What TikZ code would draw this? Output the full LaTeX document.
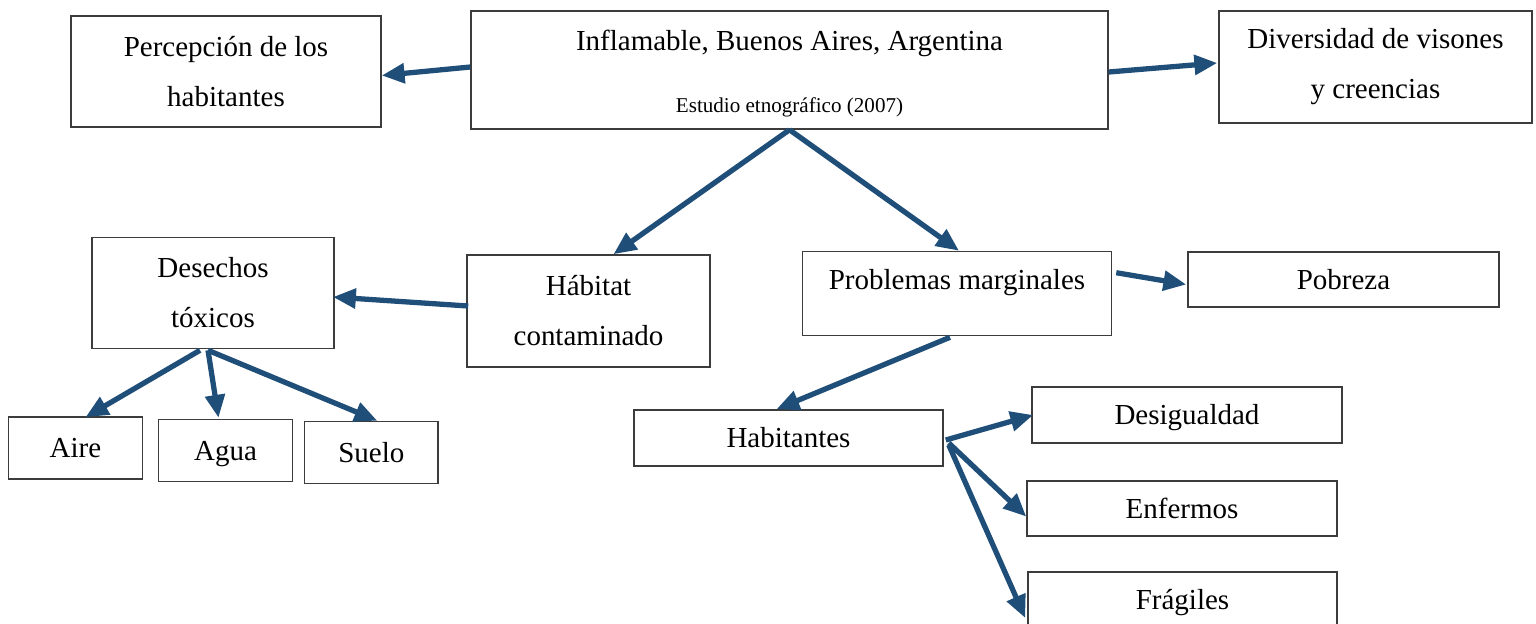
\documentclass[tikz,border=0pt]{standalone}
\usepackage{fontspec}
\setmainfont{Liberation Serif}
\usepackage{tikz}
\usetikzlibrary{calc}
\usetikzlibrary{arrows.meta}
\definecolor{denim}{RGB}{31, 78, 121}
\definecolor{frame}{RGB}{60, 60, 60}
\tikzset{
  txt/.style={inner sep=0pt, align=center, font=\fontsize{16.5}{28.5}\selectfont},
  one/.style={text height=11.2pt, text depth=0pt},
  box/.style={txt, draw=frame, line width=0.9pt},
  small/.style={inner sep=0pt, font=\fontsize{12}{14}\selectfont},
  link/.style={draw=denim, line width=3pt, -{Triangle[length=13pt,width=11pt]}},
}

\begin{document}
\begin{tikzpicture}[x=0.02cm, y=-0.02cm]
  \useasboundingbox (0,0) rectangle (1536,623);
  \clip (0,0) rectangle (1536,623);
  % top row
  \node[box, minimum width=12.74cm, minimum height=2.36cm] (inflam)   at ( 789.5,  70.0) {};
  \node[txt, one] (inflamtit) at ($(inflam.north)+(0,30)$)  {Inflamable, Buenos Aires, Argentina};
  \node[small]    (estudio)   at ($(inflam.south)+(0,-22)$) {Estudio etnográfico (2007)};
  \node[box, minimum width=6.20cm,  minimum height=2.22cm] (percep)   at ( 226.0,  71.5) {Percepción de los\\habitantes};
  \node[box, minimum width=6.26cm,  minimum height=2.24cm] (divers)   at (1375.5,  67.0) {Diversidad de visones\\y creencias};
  % middle row
  \node[box, minimum width=4.85cm,  minimum height=2.22cm] (desech)   at ( 213.0, 293.0) {Desechos\\tóxicos};
  \node[box, minimum width=4.86cm,  minimum height=2.24cm] (habitat)  at ( 588.5, 311.0) {Hábitat\\contaminado};
  \node[box, minimum width=6.18cm,  minimum height=1.68cm] (probl)    at ( 957.0, 293.5) {};
  \node[txt, one] (probltit)  at ($(probl.north)+(0,29)$)   {Problemas marginales};
  \node[box, one, minimum width=6.22cm, minimum height=1.10cm] (pobreza) at (1343.5, 279.5) {Pobreza};
  % bottom row
  \node[box, one, minimum width=2.68cm, minimum height=1.24cm] (aire)    at (  75.5, 448.0) {Aire};
  \node[box, one, minimum width=2.68cm, minimum height=1.24cm] (agua)    at ( 225.5, 450.5) {Agua};
  \node[box, one, minimum width=2.68cm, minimum height=1.24cm] (suelo)   at ( 371.3, 452.5) {Suelo};
  \node[box, one, minimum width=6.18cm, minimum height=1.12cm] (habit)   at ( 788.5, 438.0) {Habitantes};
  \node[box, one, minimum width=6.20cm, minimum height=1.12cm] (desig)   at (1187.0, 415.0) {Desigualdad};
  \node[box, one, minimum width=6.20cm, minimum height=1.10cm] (enferm)  at (1182.0, 508.5) {Enfermos};
  \node[box, one, minimum width=6.18cm, minimum height=1.12cm] (fragil)  at (1182.5, 600.0) {Frágiles};
  % arrows
  \draw[link] ($(inflam.west)+(0,-3)$)    -- ($(percep.east)+(0,4)$);
  \draw[link] ($(inflam.east)+(0,2)$)     -- ($(divers.west)+(-1,-4)$);
  \draw[link] (inflam.south)              -- ($(habitat.north)+(25,0)$);
  \draw[link] (inflam.south)              -- ($(probl.north)+(2,0)$);
  \draw[link] ($(habitat.west)+(2,-5)$)   -- ($(desech.east)+(-2,4)$);
  \draw[link] ($(probl.north east)+(4,22)$) -- ($(pobreza.west)+(-1,5)$);
  \draw[link] ($(desech.south)+(-13,1)$)  -- ($(aire.north)+(10,1)$);
  \draw[link] ($(desech.south)+(-5,1)$)   -- ($(agua.north)+(-7,-1)$);
  \draw[link] ($(desech.south)+(-5,1)$)   -- ($(suelo.north)+(6,0)$);
  \draw[link] ($(probl.south)+(-7,1)$)    -- ($(habit.north)+(-12,0)$);
  \draw[link] ($(habit.east)+(2,2)$)      -- ($(desig.west)+(2,0)$);
  \draw[link] ($(habit.east)+(5,5)$)      -- ($(enferm.west)+(0,8)$);
  \draw[link] ($(habit.east)+(5,7)$)      -- ($(fragil.west)+(-2,18)$);
\end{tikzpicture}
\end{document}
